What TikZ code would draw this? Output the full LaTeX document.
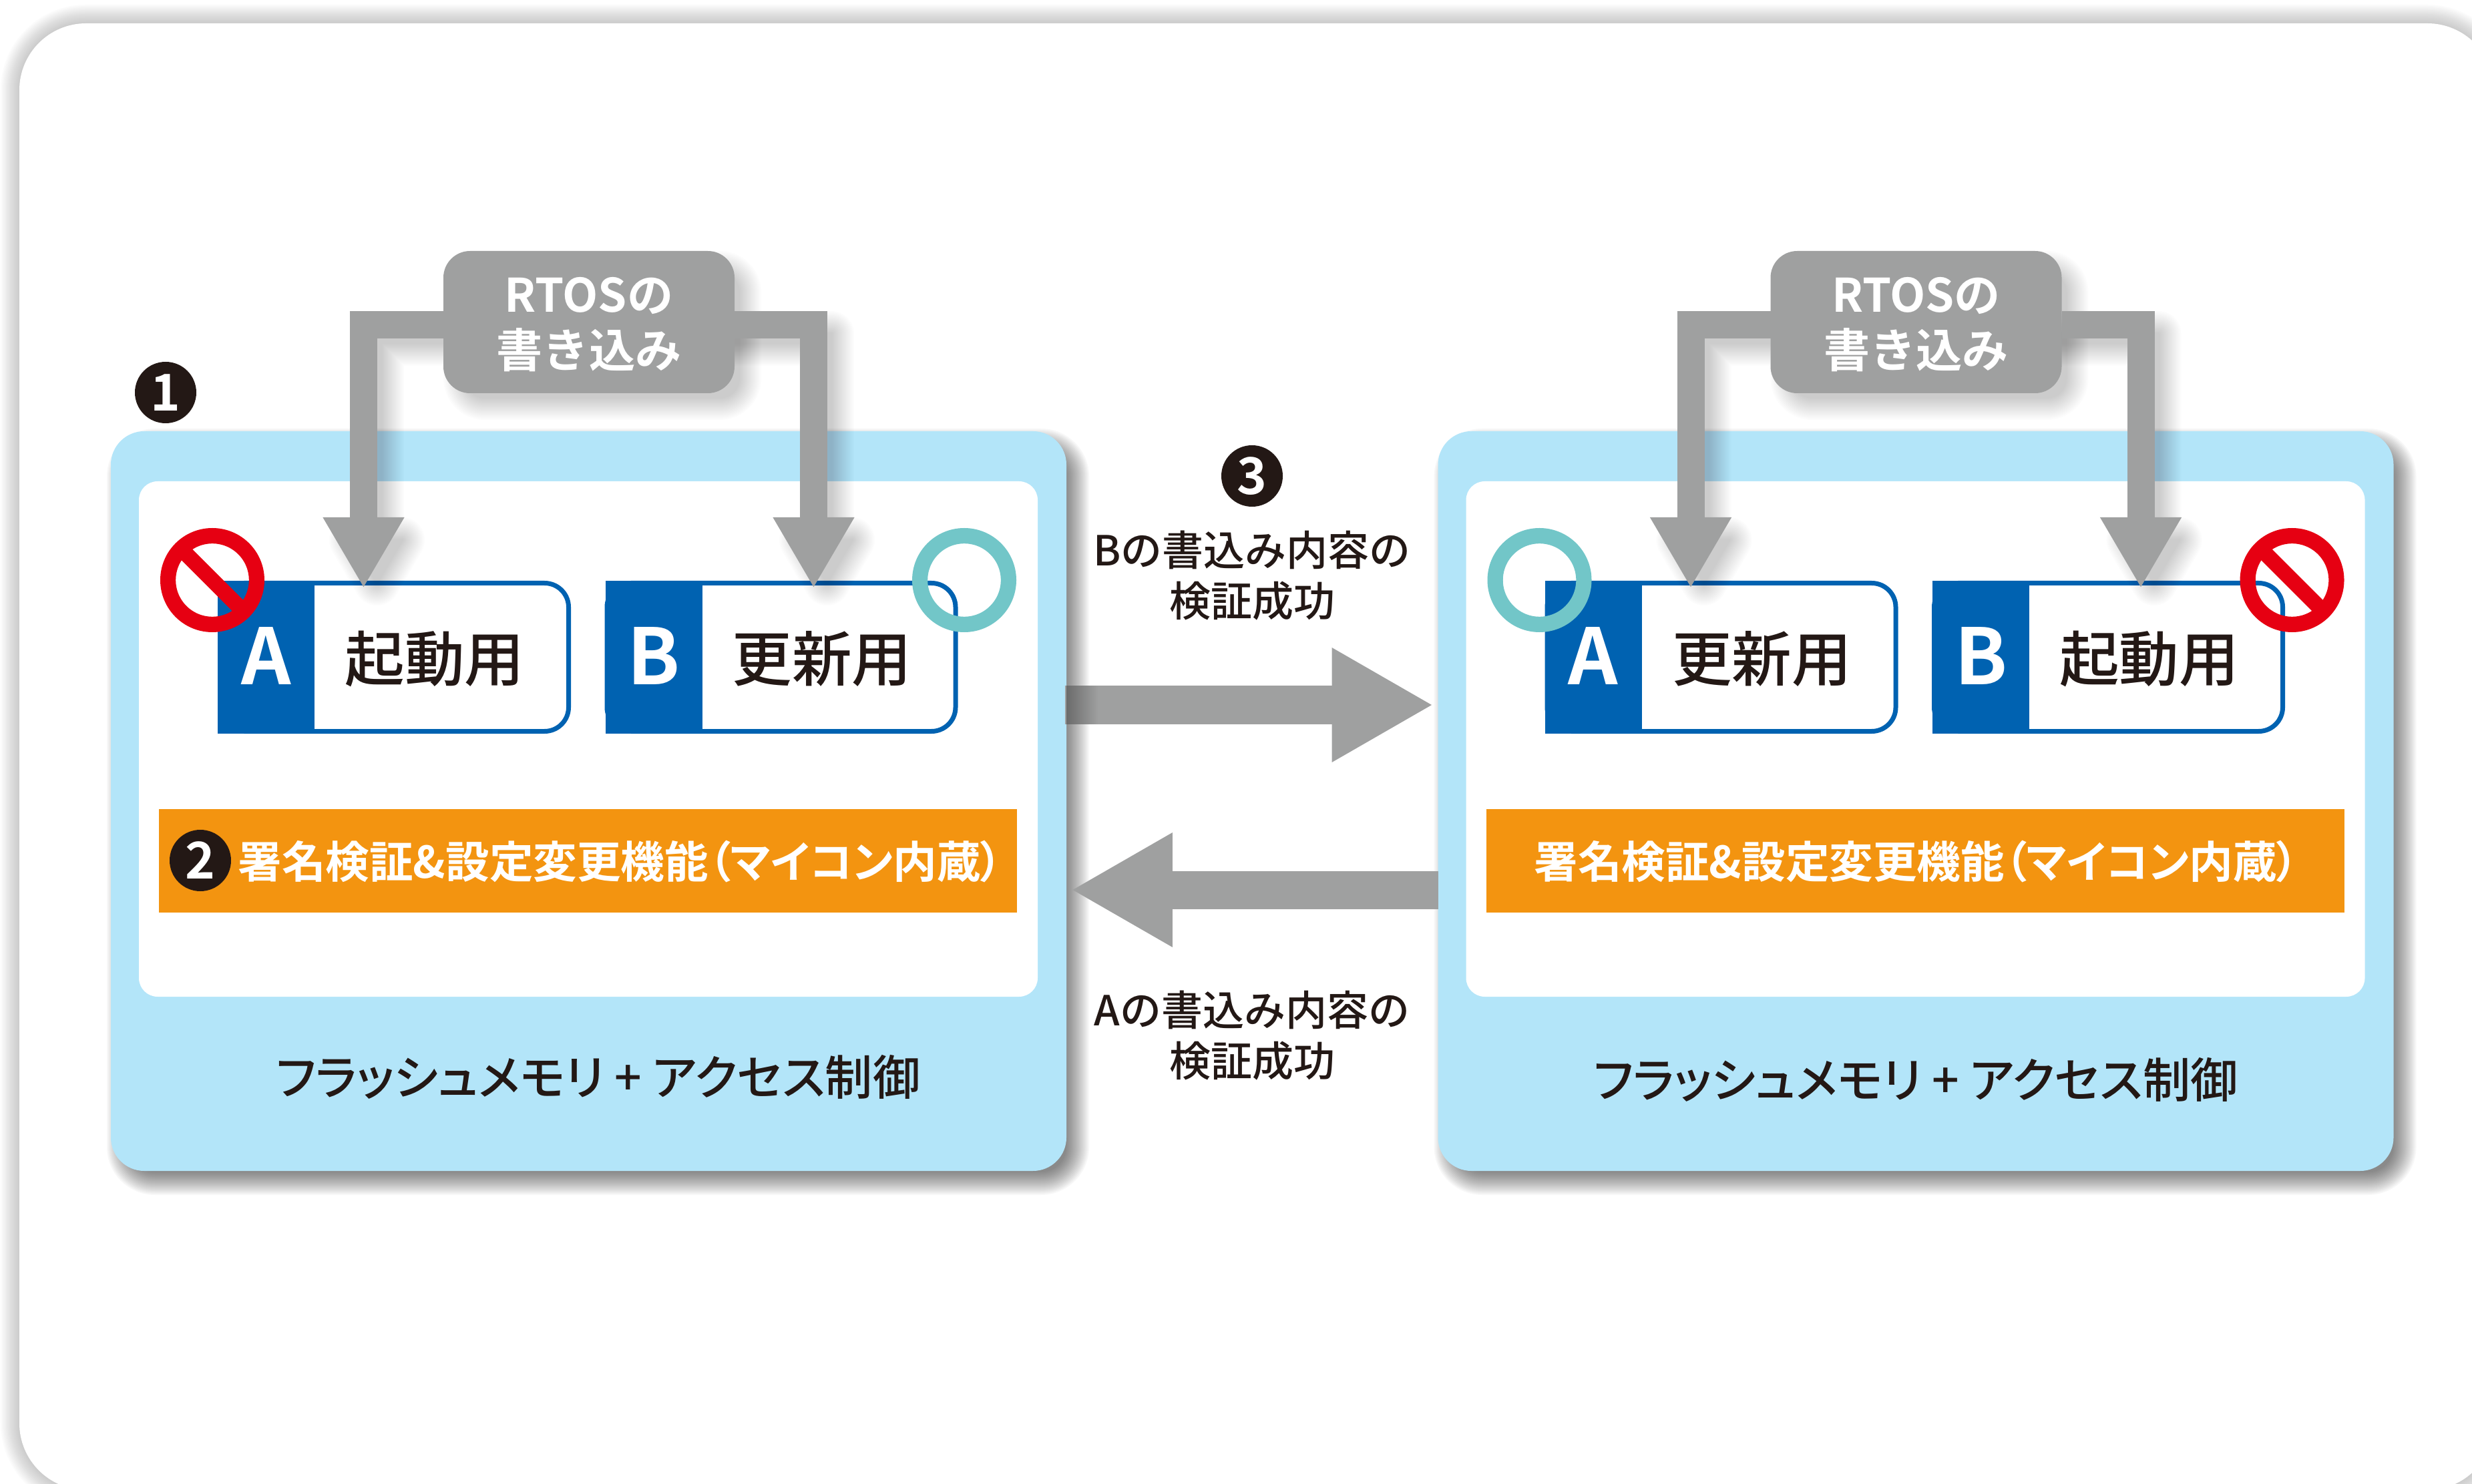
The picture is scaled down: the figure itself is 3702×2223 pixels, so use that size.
\documentclass[tikz,border=0pt]{standalone}
\usepackage{fontspec}
\usetikzlibrary{arrows.meta,calc}
\newfontfamily\jpr{Noto Sans CJK JP Medium}
\newfontfamily\jpp[RawFeature=+palt]{Noto Sans CJK JP Medium}
\newfontfamily\jpb[RawFeature=+palt]{Noto Sans CJK JP Bold}
\newfontfamily\jpbn{Noto Sans CJK JP Bold}
\definecolor{lblue}{HTML}{B3E5F9}
\definecolor{mgray}{HTML}{9FA0A0}
\definecolor{sgray}{HTML}{6B6B6B}
\definecolor{dblue}{HTML}{0062B1}
\definecolor{sred}{HTML}{E60012}
\definecolor{steal}{HTML}{72C6C8}
\definecolor{sorange}{HTML}{F39410}
\definecolor{inkk}{HTML}{231815}
\newcommand\softshadow[6]{\foreach \i in {1,...,#4}{\begin{scope}[shift={(#1,#2)},transparency group,opacity=#5]\filldraw[black,line join=round,line width=#3*2*\i/#4*.25pt] #6;\end{scope}}}
\tikzset{
  plain/.style={inner sep=0pt,outer sep=0pt,text=inkk},
  bluecard/.style={plain,fill=lblue,rounded corners=12.5pt,minimum width=357.75pt,minimum height=277pt},
  whitecard/.style={plain,fill=white,rounded corners=7pt,minimum width=336.5pt,minimum height=193pt},
  slotbox/.style={plain,draw=dblue,fill=white,line width=1.75pt,rounded corners=9pt,minimum width=130.5pt,minimum height=55.5pt},
  slottab/.style={plain,fill=dblue,minimum width=36.25pt,minimum height=57.25pt},
  tabletter/.style={plain,text=white,font=\jpbn\fontsize{29}{29}\selectfont},
  slottext/.style={plain,font=\jpr\fontsize{22.4}{26}\selectfont},
  band/.style={plain,fill=sorange,minimum width=321.25pt,minimum height=38.75pt},
  bandtext/.style={plain,text=white,font=\jpb\fontsize{16.4}{18}\selectfont},
  flashtext/.style={plain,font=\jpp\fontsize{17.8}{18}\selectfont},
  midtext/.style={plain,align=center,font=\jpr\fontsize{15.5}{19}\selectfont},
  rtosbox/.style={plain,fill=mgray,text=white,rounded corners=10pt,minimum width=109pt,minimum height=53.25pt},
  rtostext/.style={plain,text=white,align=center,font=\jpbn\fontsize{17.3}{20.75}\selectfont},
  badge/.style={circle,inner sep=0pt,outer sep=0pt,fill=inkk,text=white,minimum size=23pt,font=\jpbn\fontsize{19}{19}\selectfont},
  noring/.style={circle,plain,draw=sred,line width=5.8pt,minimum size=33.2pt},
  okring/.style={circle,plain,draw=steal,line width=5.8pt,minimum size=33.2pt},
  feed/.style={draw=mgray,line width=10.25pt,-{Triangle[length=26.5pt,width=28.5pt,fill=mgray]}},
  hfat/.style={draw=mgray,line width=14.25pt,-{Triangle[length=38pt,width=40pt,fill=mgray]},shorten >=1.7pt}
}
% #1 shift  #2 prefix  #3 label A  #4 label B  #5 flash y
\newcommand\panel[5]{%
\begin{scope}[shift={(#1,0)},name prefix=#2-]
  \softshadow{14}{16}{36}{18}{.03}{(182,662) [rounded corners=9pt] rectangle (1581,1738)}
  \node[bluecard] (card) at (881.5,1200) {};
  \node[whitecard] (inner) at (881,1107) {};
  \node[slotbox] (boxa) at (590.5,984.5) {};
  \node[slottab] (taba) at (398.5,984.5) {};
  \node[tabletter] at (398.5,982.5) {A};
  \node[slotbox] (boxb) at (1170,984.5) {};
  \node[slottab] (tabb) at (979,984.5) {};
  \node[tabletter] at (979,982.5) {B};
  \node[slottext] at (651,987) {#3};
  \node[slottext] at (1231,987) {#4};
  \node[band] (band) at (880.5,1289.5) {};
  \node[flashtext] at (#5) {フラッシュメモリ + アクセス制御};
  \softshadow{20}{20}{34}{17}{.013}{(538,480) -- (1225,480) -- (1225,789) -- (1256,789) -- (1218.5,853) -- (1181,789) -- (1212,789) -- (1212,494) -- (551,494) -- (551,789) -- (582,789) -- (544.5,853) -- (507,789) -- (538,789) -- cycle}
  \softshadow{20}{20}{34}{17}{.013}{(678,390) [rounded corners=7pt] rectangle (1086,575)}
  \coordinate (tipa) at (544.5,881);
  \coordinate (tipb) at (1218.5,881);
  \coordinate (bandy) at (0,487);
  \node[rtosbox] (rtos) at (882,482.5) {};
  \node[rtostext] at (882,486) {RTOSの\\書き込み};
  \draw[feed] (rtos.west |- bandy) -| (tipa);
  \draw[feed] (rtos.east |- bandy) -| (tipb);
\end{scope}}
\newcommand\noentry[2]{%
  \node[noring] (#1) at (#2) {};
  \draw[sred,line width=5.8pt] (#1.135) -- (#1.-45);}
\begin{document}
\begin{tikzpicture}[x=.25pt,y=-.25pt]
\useasboundingbox (0,0) rectangle (3702,2223);
\clip (0,0) rectangle (3702,2223);
\softshadow{0}{0}{32}{16}{.015}{(33,39) [rounded corners=24pt] rectangle (3731,2228)}
\node[plain,fill=white,rounded corners=25pt,minimum width=926.5pt,minimum height=549.25pt] (sheet) at (1882,1133.5) {};
\panel{0}{l}{起動用}{更新用}{896,1613}
\panel{1987.5}{r}{更新用}{起動用}{881.5,1617}
% markers
\noentry{nol}{318,869}
\node[okring] (okl) at (1444,869) {};
\node[okring] (okr) at (2305.5,869) {};
\noentry{nor}{3432.5,869}
% band labels
\node[bandtext] (bl) at (929,1291) {署名検証\&設定変更機能（マイコン内蔵）};
\node[bandtext] (br) at (2870,1291) {署名検証\&設定変更機能（マイコン内蔵）};
% badges
\node[badge] (b1) at (248,588) {1};
\node[badge] (b2) at (300,1289) {2};
\node[badge] (b3) at (1875,713) {3};
% transfer arrows
\coordinate (upy) at (0,1056);
\coordinate (dny) at (0,1333);
\draw[hfat,shorten <=-.6pt] (l-card.east |- upy) -- (r-card.west |- upy);
\shade[left color=sgray,right color=mgray] (1597,1028) rectangle (1645,1084);
\draw[hfat] (r-card.west |- dny) -- (l-card.east |- dny);
\node[midtext] (m1) at (1875,862) {Bの書込み内容の\\検証成功};
\node[midtext] (m2) at (1875,1551) {Aの書込み内容の\\検証成功};
\end{tikzpicture}
\end{document}
